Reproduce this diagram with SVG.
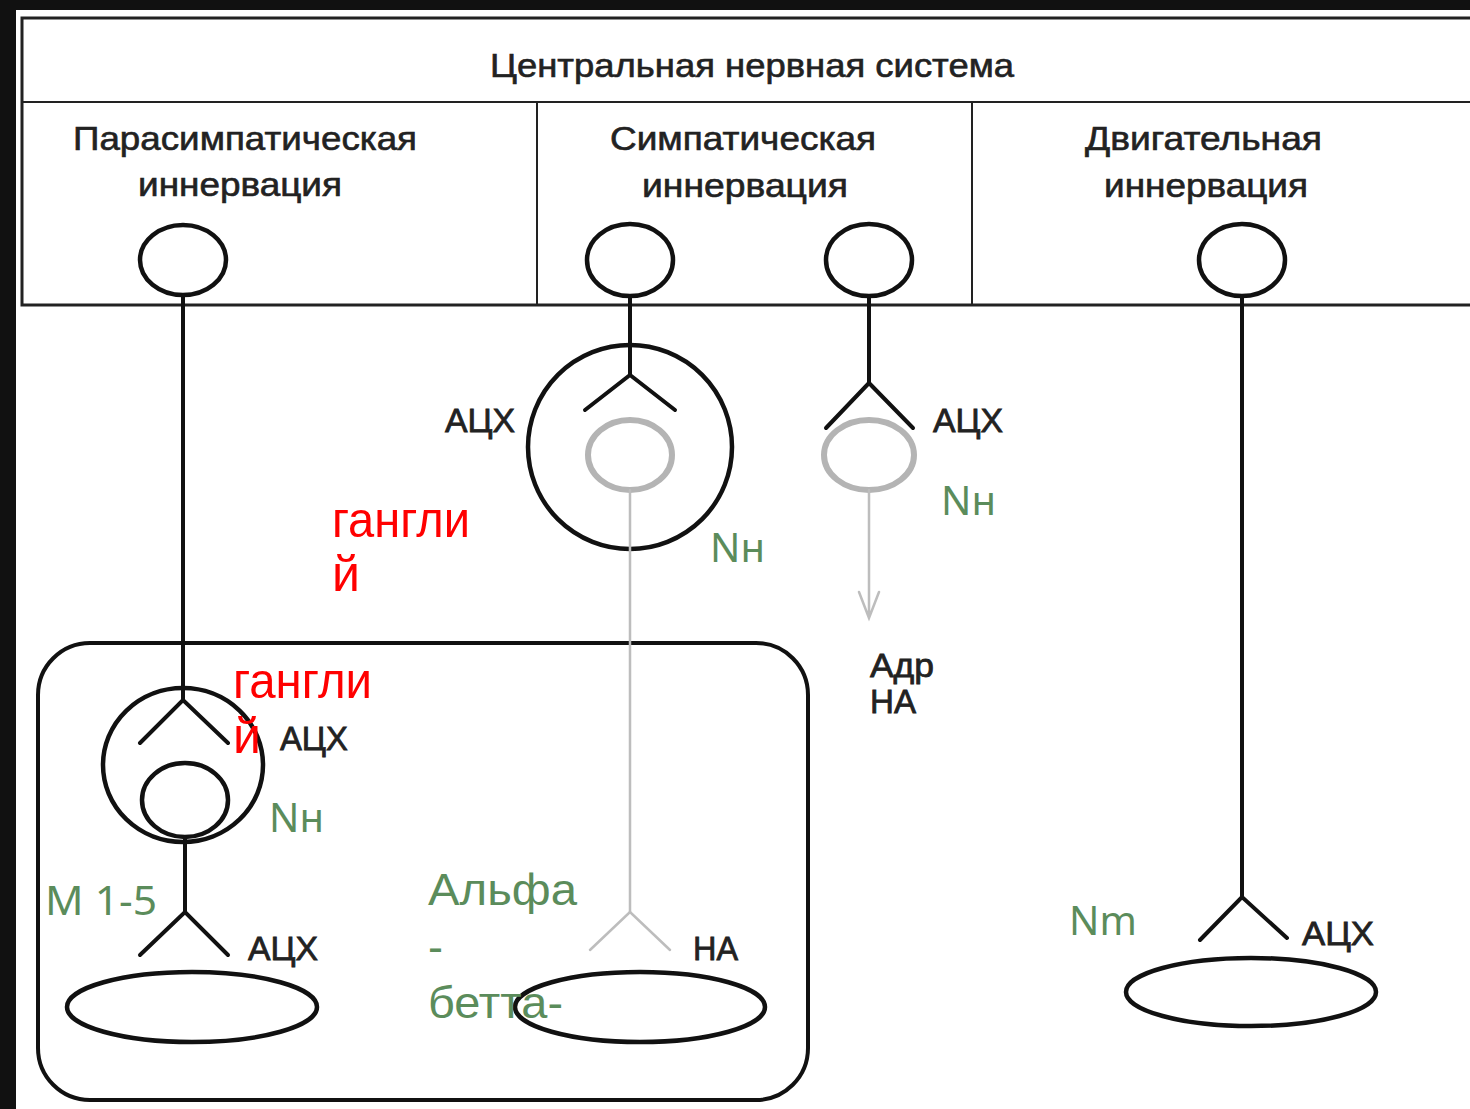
<svg xmlns="http://www.w3.org/2000/svg" width="1470" height="1109" viewBox="0 0 1470 1109">
  <style>
    .ln { stroke: #111; stroke-width: 4; fill: none; stroke-linecap: round; }
    .frame { stroke: #222; stroke-width: 3; fill: none; }
    .cell { stroke: #222; stroke-width: 2; fill: none; }
    .soma { stroke: #111; stroke-width: 4.5; fill: none; }
    .gray { stroke: #b4b4b4; stroke-width: 6; fill: none; }
    .gline { stroke: #bdbdbd; stroke-width: 2.5; fill: none; stroke-linecap: round; }
    .hdr { font-family: "Liberation Sans", Arial, sans-serif; font-size: 33px; fill: #222; stroke: #222; stroke-width: 0.6; }
    .lbl { font-family: "Liberation Sans", Arial, sans-serif; font-size: 34px; fill: #222; stroke: #222; stroke-width: 0.8; }
    .red { font-family: "Liberation Sans", Arial, sans-serif; font-size: 50px; fill: #ff0000; }
    .grn { font-family: "Noto Sans", "Open Sans", sans-serif; font-size: 40px; fill: #5b8c5b; }
    .grn2 { font-family: "Liberation Sans", Arial, sans-serif; font-size: 45px; fill: #5b8c5b; }
  </style>

  <!-- page background and dark edges -->
  <rect x="0" y="0" width="1470" height="1109" fill="#ffffff"/>
  <rect x="0" y="0" width="1470" height="10" fill="#111"/>
  <rect x="0" y="0" width="16" height="1109" fill="#111"/>

  <!-- CNS header table -->
  <g id="cns-header">
    <path class="frame" d="M1470 18 H22 V305 H1470"/>
    <line class="cell" x1="22" y1="102" x2="1470" y2="102"/>
    <line class="cell" x1="537" y1="102" x2="537" y2="305"/>
    <line class="cell" x1="972" y1="102" x2="972" y2="305"/>
    <text class="hdr" x="490" y="77" textLength="524" lengthAdjust="spacingAndGlyphs">Центральная нервная система</text>
    <text class="hdr" x="73" y="150" textLength="344" lengthAdjust="spacingAndGlyphs">Парасимпатическая</text>
    <text class="hdr" x="138" y="196" textLength="204" lengthAdjust="spacingAndGlyphs">иннервация</text>
    <text class="hdr" x="610" y="150" textLength="266" lengthAdjust="spacingAndGlyphs">Симпатическая</text>
    <text class="hdr" x="642" y="197" textLength="206" lengthAdjust="spacingAndGlyphs">иннервация</text>
    <text class="hdr" x="1085" y="150" textLength="237" lengthAdjust="spacingAndGlyphs">Двигательная</text>
    <text class="hdr" x="1104" y="197" textLength="204" lengthAdjust="spacingAndGlyphs">иннервация</text>
  </g>

  <!-- organ outline -->
  <g id="organ">
    <rect x="38" y="643" width="770" height="457" rx="52" ry="52" fill="none" stroke="#111" stroke-width="4"/>
  </g>

  <!-- central neurons -->
  <g id="para-cns-neuron"><ellipse class="soma" cx="183" cy="260" rx="43" ry="35"/></g>
  <g id="symp-cns-neuron-1"><ellipse class="soma" cx="630" cy="260" rx="43" ry="36"/></g>
  <g id="symp-cns-neuron-2"><ellipse class="soma" cx="869" cy="260" rx="43" ry="36"/></g>
  <g id="motor-cns-neuron"><ellipse class="soma" cx="1242" cy="260" rx="43" ry="36"/></g>

  <!-- ganglia -->
  <g id="para-ganglion">
    <ellipse class="soma" cx="183" cy="765" rx="80" ry="77"/>
    <ellipse class="soma" cx="185" cy="800" rx="43" ry="37"/>
  </g>
  <g id="symp-ganglion">
    <circle class="soma" cx="630" cy="447" r="102"/>
    <ellipse class="gray" cx="630" cy="455" rx="42" ry="35"/>
  </g>
  <g id="adrenal-cell">
    <ellipse class="gray" cx="869" cy="455" rx="45" ry="35"/>
  </g>

  <!-- effector cells -->
  <g id="para-effector"><ellipse class="soma" cx="192" cy="1007" rx="125" ry="35"/></g>
  <g id="symp-effector"><ellipse class="soma" cx="640" cy="1007" rx="125" ry="35"/></g>
  <g id="muscle"><ellipse class="soma" cx="1251" cy="992" rx="125" ry="34"/></g>

  <!-- axons and synaptic endings -->
  <g id="connectors">
    <path class="ln" d="M183 295 V700 M140 743 L183 700 L228 743"/>
    <path class="ln" d="M185 837 V912 M140 955 L185 912 L228 955"/>
    <path class="ln" d="M630 296 V375 M585 410 L630 375 L675 410"/>
    <path class="ln" d="M869 296 V383 M826 428 L869 383 L913 428"/>
    <path class="ln" d="M1242 296 V897 M1200 940 L1242 897 L1287 938"/>
    <path class="gline" d="M630 490 V912"/>
    <path class="gline" stroke-width="3" d="M590 950 L630 912 L670 950"/>
    <path class="gline" stroke-width="3.5" d="M869 490 V616 M859 592 L869 618 L879 592"/>
  </g>

  <!-- mediator labels -->
  <g id="mediators">
    <text class="lbl" x="445" y="432" textLength="70" lengthAdjust="spacingAndGlyphs">АЦХ</text>
    <text class="lbl" x="933" y="432" textLength="70" lengthAdjust="spacingAndGlyphs">АЦХ</text>
    <text class="lbl" x="280" y="750" textLength="68" lengthAdjust="spacingAndGlyphs">АЦХ</text>
    <text class="lbl" x="248" y="960" textLength="70" lengthAdjust="spacingAndGlyphs">АЦХ</text>
    <text class="lbl" x="693" y="960" textLength="45" lengthAdjust="spacingAndGlyphs">НА</text>
    <text class="lbl" x="1302" y="945" textLength="72" lengthAdjust="spacingAndGlyphs">АЦХ</text>
    <text class="lbl" x="870" y="677" textLength="64" lengthAdjust="spacingAndGlyphs">Адр</text>
    <text class="lbl" x="870" y="713" textLength="46" lengthAdjust="spacingAndGlyphs">НА</text>
  </g>

  <!-- receptor notes -->
  <g id="receptors">
    <text class="grn" x="710" y="562">Nн</text>
    <text class="grn" x="941" y="515">Nн</text>
    <text class="grn" x="269" y="832">Nн</text>
    <text class="grn" x="45" y="915" textLength="112" lengthAdjust="spacingAndGlyphs">М 1-5</text>
    <text class="grn" x="1069" y="935">Nm</text>
    <text class="grn2" x="428" y="905" textLength="149" lengthAdjust="spacingAndGlyphs">Альфа</text>
    <text class="grn2" x="428" y="962">-</text>
    <text class="grn2" x="428" y="1018" textLength="135" lengthAdjust="spacingAndGlyphs">бетта-</text>
  </g>

  <!-- ganglion notes -->
  <g id="ganglion-notes">
    <text class="red" x="332" y="537" textLength="138" lengthAdjust="spacingAndGlyphs">гангли</text>
    <text class="red" x="332" y="591">й</text>
    <text class="red" x="233" y="698" textLength="139" lengthAdjust="spacingAndGlyphs">гангли</text>
    <text class="red" x="233" y="753">й</text>
  </g>
</svg>
